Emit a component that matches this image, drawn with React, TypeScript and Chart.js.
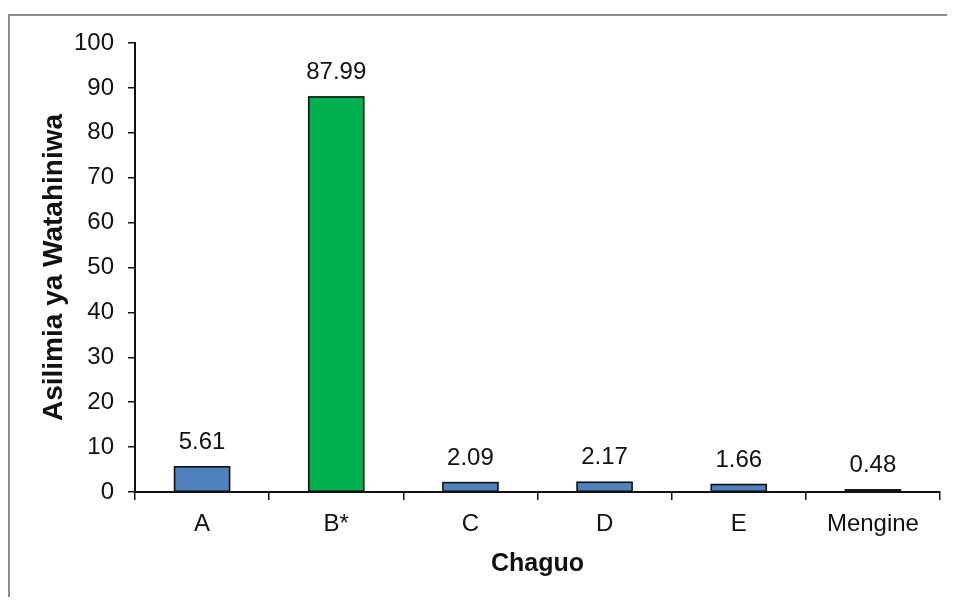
import React, { useEffect, useRef } from "react";
import { Chart, registerables } from "chart.js";

Chart.register(...registerables);

const categories = ["A", "B*", "C", "D", "E", "Mengine"];
const percentages = [5.61, 87.99, 2.09, 2.17, 1.66, 0.48];
const barColors = ["#4F81BD", "#00B050", "#4F81BD", "#4F81BD", "#4F81BD", "#4F81BD"];
const yMin = 0;
const yMax = 100;
const yStep = 10;
const xTitle = "Chaguo";
const yTitle = "Asilimia ya Watahiniwa";

const FONT = '"Liberation Sans", Arial, sans-serif';

// Excel-like bar outline (stroke centred on the bar edge) + value labels
const barOutlineAndLabels = {
  id: "barOutlineAndLabels",
  afterDatasetsDraw(chart: any) {
    const ctx = chart.ctx;
    const meta = chart.getDatasetMeta(0);
    ctx.save();
    ctx.strokeStyle = "#111";
    ctx.lineWidth = 1.6;
    meta.data.forEach((bar: any) => {
      const { x, y, base, width } = bar.getProps(["x", "y", "base", "width"], true);
      const left = x - width / 2;
      const top = Math.min(y, base);
      const h = Math.abs(base - y);
      ctx.strokeRect(left, top, width, h);
    });
    ctx.font = `24px ${FONT}`;
    ctx.fillStyle = "#111";
    ctx.textAlign = "center";
    ctx.textBaseline = "alphabetic";
    meta.data.forEach((bar: any, i: number) => {
      ctx.fillText(percentages[i].toFixed(2), bar.x, bar.y - 18);
    });
    ctx.restore();
  },
};

export default function App() {
  const ref = useRef<HTMLCanvasElement | null>(null);

  useEffect(() => {
    if (!ref.current) return;
    const chart = new Chart(ref.current, {
      type: "bar",
      data: {
        labels: categories,
        datasets: [
          {
            data: percentages,
            backgroundColor: barColors,
            borderWidth: 0,
            barPercentage: 0.41,
            categoryPercentage: 1,
          },
        ],
      },
      options: {
        animation: false,
        responsive: false,
        devicePixelRatio: 1,
        layout: { padding: { top: 35, right: 15, left: 0, bottom: 0 } },
        plugins: {
          legend: { display: false },
          tooltip: { enabled: false },
        },
        scales: {
          x: {
            afterFit: (s: any) => {
              s.height = 105;
            },
            grid: {
              drawOnChartArea: false,
              drawTicks: true,
              tickLength: 8,
              color: "#111",
              lineWidth: 1.5,
            },
            border: { display: true, color: "#111", width: 2 },
            ticks: {
              color: "#111",
              font: { family: FONT, size: 24 },
              padding: 10,
              maxRotation: 0,
            },
            title: {
              display: true,
              text: xTitle,
              color: "#111",
              font: { family: FONT, size: 25, weight: "bold" },
              padding: { top: 0, bottom: 18 },
            },
          },
          y: {
            min: yMin,
            max: yMax,
            afterFit: (s: any) => {
              s.width = 127;
            },
            grid: {
              drawOnChartArea: false,
              drawTicks: true,
              tickLength: 7,
              color: "#111",
              lineWidth: 1.5,
            },
            border: { display: true, color: "#111", width: 2 },
            ticks: {
              stepSize: yStep,
              color: "#111",
              font: { family: FONT, size: 24 },
              padding: 14,
            },
            title: {
              display: true,
              text: yTitle,
              color: "#111",
              font: { family: FONT, size: 28, weight: "bold" },
              padding: { top: 29, bottom: 0 },
            },
          },
        },
      },
      plugins: [barOutlineAndLabels],
    });
    return () => chart.destroy();
  }, []);

  return (
    <div style={{ position: "relative", width: 947, height: 589, overflow: "hidden", background: "#fff" }}>
      <div
        style={{
          position: "absolute",
          left: 0,
          top: 6,
          width: 2000,
          height: 2000,
          borderTop: "2px solid #8c8c8c",
          borderLeft: "2px solid #8c8c8c",
        }}
      />
      <canvas
        ref={ref}
        width={947}
        height={589}
        style={{ position: "absolute", left: 0, top: 0, width: 947, height: 589 }}
      />
    </div>
  );
}
